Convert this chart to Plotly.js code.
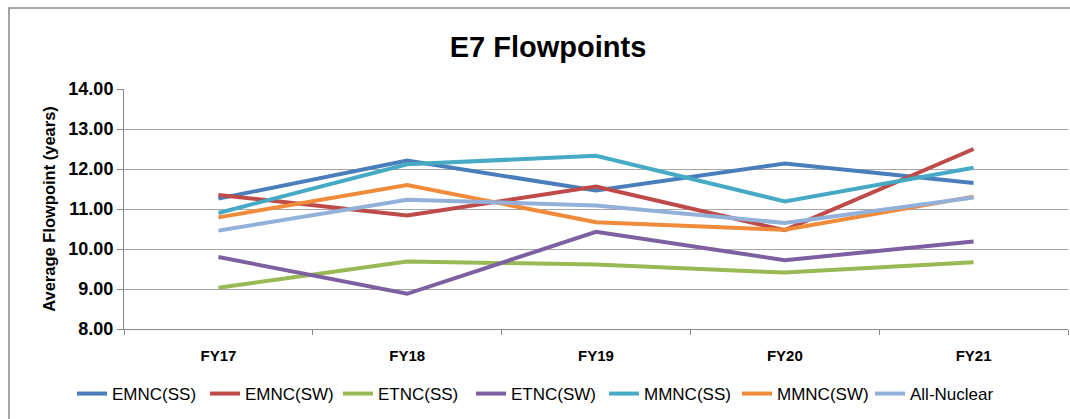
<!DOCTYPE html>
<html>
<head>
<meta charset="utf-8">
<script src="https://cdn.plot.ly/plotly-3.0.1.min.js"></script>
<style>html,body{margin:0;padding:0;background:#fff;}#chart{width:1070px;height:419px;}</style>
</head>
<body>
<div id="chart"></div>
<script>
const years = ["FY17", "FY18", "FY19", "FY20", "FY21"];
const seriesNames = ["EMNC(SS)", "EMNC(SW)", "ETNC(SS)", "ETNC(SW)", "MMNC(SS)", "MMNC(SW)", "All-Nuclear"];
const emncSS = [11.26, 12.21, 11.46, 12.14, 11.65];
const emncSW = [11.35, 10.84, 11.56, 10.47, 12.50];
const etncSS = [9.03, 9.69, 9.61, 9.41, 9.67];
const etncSW = [9.80, 8.88, 10.43, 9.72, 10.19];
const mmncSS = [10.90, 12.12, 12.33, 11.19, 12.03];
const mmncSW = [10.79, 11.60, 10.67, 10.48, 11.31];
const allNuclear = [10.46, 11.23, 11.09, 10.65, 11.29];
const seriesValues = [emncSS, emncSW, etncSS, etncSW, mmncSS, mmncSW, allNuclear];
const colors = ["#4A7EBB", "#BE4B48", "#98B954", "#7D60A0", "#46AAC5", "#F08B3B", "#93B1D8"];

const bold = "Liberation Sans, Arial, sans-serif";
const traces = seriesNames.map((name, i) => ({
  type: "scatter",
  mode: "lines",
  name: name,
  x: years,
  y: seriesValues[i],
  line: {color: colors[i], width: 4},
  hoverinfo: "x+y+name"
}));

// plot area: x 124..1068, y 89..329
const L = 124, R = 1068, T = 89, B = 329;
const px = v => (v - L) / (R - L);
const py = v => (B - v) / (B - T);

const layout = {
  width: 1070,
  height: 419,
  margin: {l: L, r: 1070 - R, t: T, b: 419 - B, pad: 0},
  paper_bgcolor: "#ffffff",
  plot_bgcolor: "#ffffff",
  title: {
    text: "<b>E7 Flowpoints</b>",
    font: {family: bold, size: 29, color: "#000000"},
    xref: "paper", x: px(548), xanchor: "center",
    yref: "container", y: 1 - 47 / 419, yanchor: "middle"
  },
  xaxis: {
    type: "category",
    range: [-0.5, 4.5],
    tickson: "boundaries",
    ticks: "outside",
    ticklen: 5,
    tickcolor: "#868686",
    showline: true,
    linecolor: "#868686",
    linewidth: 1,
    showgrid: false,
    zeroline: false,
    tickfont: {family: bold, size: 15, color: "#000000"},
    ticklabelstandoff: 13,
    tickprefix: "<b>", ticksuffix: "</b>",
    fixedrange: true
  },
  yaxis: {
    range: [8, 14],
    dtick: 1,
    tickformat: ".2f",
    ticks: "outside",
    ticklen: 6,
    tickcolor: "#868686",
    showline: true,
    linecolor: "#868686",
    linewidth: 1,
    showgrid: true,
    gridcolor: "#A6A6A6",
    gridwidth: 1,
    zeroline: false,
    tickfont: {family: bold, size: 18, color: "#000000"},
    tickprefix: "<b>", ticksuffix: "</b>",
    title: {
      text: "<b>Average Flowpoint (years)</b>",
      font: {family: bold, size: 16.5, color: "#000000"},
      standoff: 8
    },
    fixedrange: true
  },
  showlegend: true,
  legend: {
    orientation: "h",
    x: px(72), xanchor: "left",
    y: py(394), yanchor: "middle",
    font: {family: "Liberation Sans Narrow, Liberation Sans, Arial, sans-serif", size: 17, color: "#000000"},
    bgcolor: "rgba(0,0,0,0)",
    entrywidthmode: "pixels",
    entrywidth: 88
  },
  shapes: [{
    type: "rect", xref: "paper", yref: "paper",
    x0: px(9), x1: px(1090), y0: py(440), y1: py(8),
    line: {color: "#868686", width: 1.5},
    fillcolor: "rgba(0,0,0,0)",
    layer: "below"
  }]
};

Plotly.newPlot("chart", traces, layout, {displayModeBar: false, staticPlot: true});
</script>
</body>
</html>
